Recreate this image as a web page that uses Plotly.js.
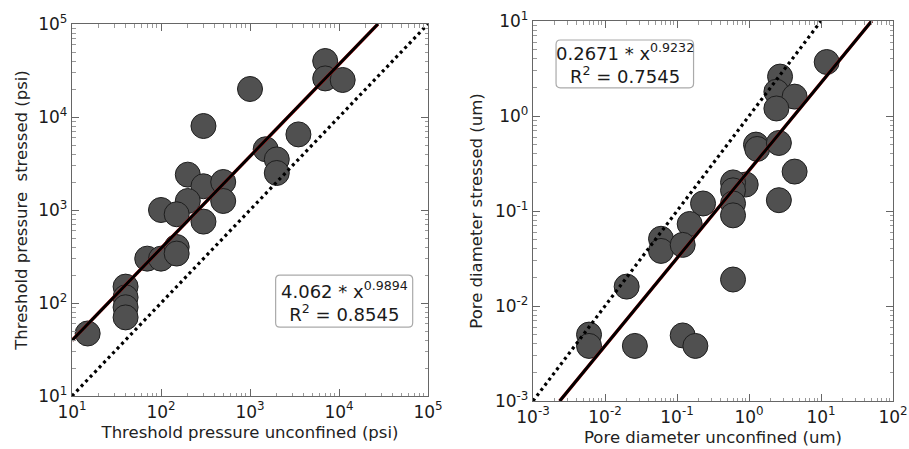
<!DOCTYPE html>
<html>
<head>
<meta charset="utf-8">
<script src="https://cdn.plot.ly/plotly-3.0.1.min.js"></script>
<style>html,body{margin:0;padding:0;background:#fff;}#chart{width:909px;height:449px;}</style>
</head>
<body>
<div id="chart"></div>
<script>
// ---- Left panel: threshold pressure (psi) ----
const tpUnconfined = [7000, 7000, 11000, 1000, 300, 3500, 1500, 2000, 2000, 200, 300, 500, 200, 500, 100, 150, 300, 70, 100, 150, 150, 40, 40, 40, 40, 15];
const tpStressed   = [40000, 26000, 25000, 20000, 8000, 6500, 4500, 3500, 2500, 2400, 1800, 2000, 1250, 1250, 1000, 900, 750, 300, 300, 400, 340, 150, 115, 90, 70, 47];
const tpFitA = 4.062, tpFitB = 0.9894, tpR2 = 0.8545;
const tpFitX = [10, 27400];
const tpOneToOne = [10, 100000];

// ---- Right panel: pore diameter (um) ----
const pdUnconfined = [12, 2.7, 2.4, 4.3, 2.4, 1.25, 1.3, 2.6, 4.3, 0.9, 0.6, 0.6, 0.23, 2.6, 0.6, 0.6, 0.15, 0.06, 0.06, 0.12, 0.02, 0.6, 0.006, 0.006, 0.026, 0.12, 0.18];
const pdStressed   = [3.7, 2.6, 1.8, 1.6, 1.2, 0.5, 0.45, 0.52, 0.26, 0.19, 0.2, 0.165, 0.12, 0.13, 0.12, 0.09, 0.073, 0.051, 0.038, 0.044, 0.016, 0.019, 0.005, 0.0038, 0.0038, 0.0049, 0.0038];
const pdFitA = 0.2671, pdFitB = 0.9232, pdR2 = 0.7545;
const pdFitX = [0.00235, 50.6];
const pdOneToOne = [0.001, 10];

// ---- Tick labels ----
const tpTickVals = [10, 100, 1000, 10000, 100000];
const tpTickText = ['10<sup>1</sup>', '10<sup>2</sup>', '10<sup>3</sup>', '10<sup>4</sup>', '10<sup>5</sup>'];
const pdXTickVals = [0.001, 0.01, 0.1, 1, 10, 100];
const pdXTickText = ['10<sup>-3</sup>', '10<sup>-2</sup>', '10<sup>-1</sup>', '10<sup>0</sup>', '10<sup>1</sup>', '10<sup>2</sup>'];
const pdYTickVals = [0.001, 0.01, 0.1, 1, 10];
const pdYTickText = ['10<sup>-3</sup>', '10<sup>-2</sup>', '10<sup>-1</sup>', '10<sup>0</sup>', '10<sup>1</sup>'];

const W = 909, H = 449;
const FONT = 'DejaVu Sans, sans-serif';
const markerStyle = {size: 25, color: '#505050', line: {color: '#1e1e1e', width: 1}};

function fitY(xs, a, b) { return xs.map(x => a * Math.pow(x, b)); }

const traces = [
  {x: tpUnconfined, y: tpStressed, mode: 'markers', type: 'scatter', marker: markerStyle, xaxis: 'x', yaxis: 'y', hoverinfo: 'skip'},
  {x: tpOneToOne, y: tpOneToOne, mode: 'lines', line: {color: '#000', width: 3.2, dash: '3px,3.5px'}, xaxis: 'x', yaxis: 'y'},
  {x: tpFitX, y: fitY(tpFitX, tpFitA, tpFitB), mode: 'lines', line: {color: '#e02020', width: 3.4}, xaxis: 'x', yaxis: 'y'},
  {x: tpFitX, y: fitY(tpFitX, tpFitA, tpFitB), mode: 'lines', line: {color: '#000', width: 3}, xaxis: 'x', yaxis: 'y'},

  {x: pdUnconfined, y: pdStressed, mode: 'markers', type: 'scatter', marker: markerStyle, xaxis: 'x2', yaxis: 'y2', hoverinfo: 'skip'},
  {x: pdOneToOne, y: pdOneToOne, mode: 'lines', line: {color: '#000', width: 3.2, dash: '3px,3.5px'}, xaxis: 'x2', yaxis: 'y2'},
  {x: pdFitX, y: fitY(pdFitX, pdFitA, pdFitB), mode: 'lines', line: {color: '#e02020', width: 3.4}, xaxis: 'x2', yaxis: 'y2'},
  {x: pdFitX, y: fitY(pdFitX, pdFitA, pdFitB), mode: 'lines', line: {color: '#000', width: 3}, xaxis: 'x2', yaxis: 'y2'}
];

function axisBase(extra) {
  return Object.assign({
    type: 'log', showgrid: false, zeroline: false,
    showline: true, linecolor: '#666', linewidth: 1.2, mirror: 'allticks',
    ticks: 'inside', ticklen: 7, tickcolor: '#666', tickwidth: 1,
    minor: {ticks: 'inside', ticklen: 3.5, tickcolor: '#999', tickwidth: 1, dtick: 'D1', showgrid: false},
    tickfont: {family: FONT, size: 17, color: '#1a1a1a'},
    tickmode: 'array', automargin: false
  }, extra);
}

// panel pixel boxes
const L = {x0: 72, x1: 428, y0: 24, y1: 396};
const R = {x0: 533, x1: 893, y0: 21, y1: 401};

function boxShape(xr, yr, x0, x1, y0, y1, px, py) {
  const p = `M ${x0+px},${y0} L ${x1-px},${y0} Q ${x1},${y0} ${x1},${y0+py} L ${x1},${y1-py} Q ${x1},${y1} ${x1-px},${y1} L ${x0+px},${y1} Q ${x0},${y1} ${x0},${y1-py} L ${x0},${y0+py} Q ${x0},${y0} ${x0+px},${y0} Z`;
  return {type: 'path', xref: xr, yref: yr, path: p, line: {color: '#aaaaaa', width: 1.2}, fillcolor: 'rgba(255,255,255,0.9)', layer: 'above'};
}

const titleFont = {family: FONT, size: 16.5, color: '#222'};

const layout = {
  width: W, height: H,
  margin: {l: 0, r: 0, t: 0, b: 0},
  paper_bgcolor: '#fff', plot_bgcolor: '#fff',
  showlegend: false,
  font: {family: FONT},
  xaxis: axisBase({domain: [L.x0 / W, L.x1 / W], range: [1, 5], anchor: 'y',
    tickvals: tpTickVals, ticktext: tpTickText,
    title: {text: 'Threshold pressure unconfined (psi)', font: titleFont, standoff: 5}}),
  yaxis: axisBase({domain: [1 - L.y1 / H, 1 - L.y0 / H], range: [1, 5], anchor: 'x',
    tickvals: tpTickVals, ticktext: tpTickText,
    title: {text: 'Threshold pressure \u00a0stressed (psi)', font: titleFont, standoff: 6}}),
  xaxis2: axisBase({domain: [R.x0 / W, R.x1 / W], range: [-3, 2], anchor: 'y2',
    tickvals: pdXTickVals, ticktext: pdXTickText,
    title: {text: 'Pore diameter unconfined (um)', font: titleFont, standoff: 5}}),
  yaxis2: axisBase({domain: [1 - R.y1 / H, 1 - R.y0 / H], range: [-3, 1], anchor: 'x2',
    tickvals: pdYTickVals, ticktext: pdYTickText,
    title: {text: 'Pore diameter stressed (um)', font: titleFont, standoff: 8}}),
  shapes: [
    boxShape('x domain', 'y domain', 0.572, 0.957, 0.185, 0.325, 0.012, 0.012),
    boxShape('x2 domain', 'y2 domain', 0.064, 0.446, 0.824, 0.950, 0.012, 0.012)
  ],
  annotations: [
    {xref: 'x domain', yref: 'y domain', x: 0.765, y: 0.255, xanchor: 'center', yanchor: 'middle', showarrow: false,
     align: 'center', font: {family: FONT, size: 18, color: '#1a1a1a'},
     text: tpFitA.toFixed(3) + ' * x<sup>' + tpFitB.toFixed(4) + '</sup><br>R<sup>2</sup> = ' + tpR2.toFixed(4)},
    {xref: 'x2 domain', yref: 'y2 domain', x: 0.255, y: 0.887, xanchor: 'center', yanchor: 'middle', showarrow: false,
     align: 'center', font: {family: FONT, size: 18, color: '#1a1a1a'},
     text: pdFitA.toFixed(4) + ' * x<sup>' + pdFitB.toFixed(4) + '</sup><br>R<sup>2</sup> = ' + pdR2.toFixed(4)}
  ]
};

Plotly.newPlot('chart', traces, layout, {staticPlot: true, displayModeBar: false});
</script>
</body>
</html>
